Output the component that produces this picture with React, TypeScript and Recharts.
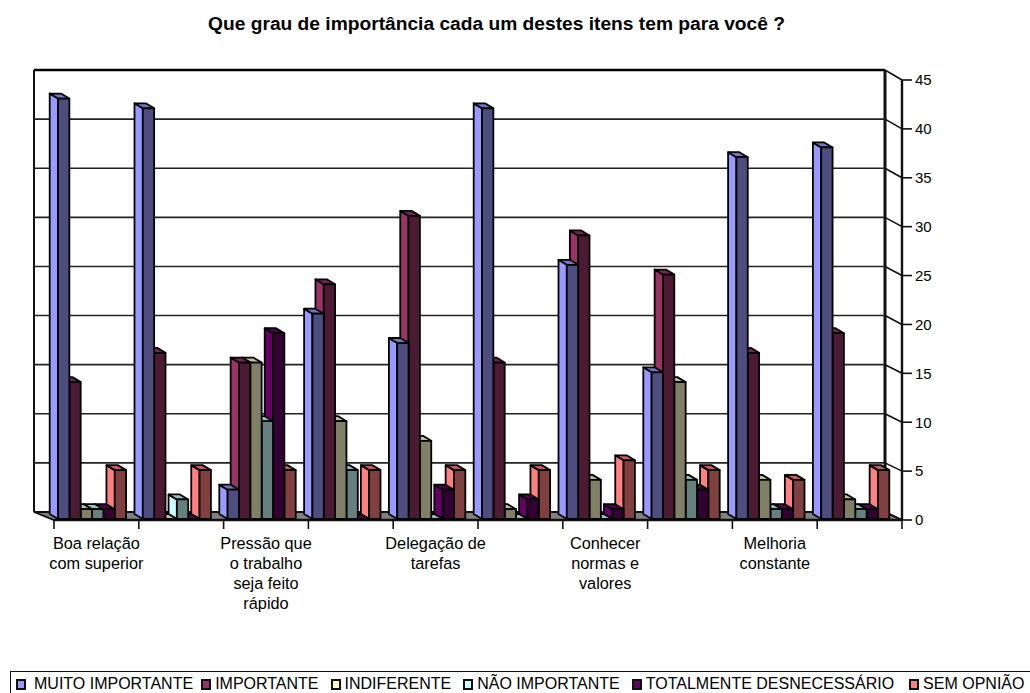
import { BarChart, Bar, XAxis, YAxis, CartesianGrid, Legend } from "recharts";

const FONT = '"Liberation Sans", Arial, sans-serif';

const categoryLabels = [
  ["Boa relação", "com superior"],
  [],
  ["Pressão que", "o trabalho", "seja feito", "rápido"],
  [],
  ["Delegação de", "tarefas"],
  [],
  ["Conhecer", "normas e", "valores"],
  [],
  ["Melhoria", "constante"],
  [],
];

const muitoImportante = [43, 42, 3, 21, 18, 42, 26, 15, 37, 38];
const importante = [14, 17, 16, 24, 31, 16, 29, 25, 17, 19];
const indiferente = [1, 0, 16, 10, 8, 1, 4, 14, 4, 2];
const naoImportante = [1, 2, 10, 5, 0, 0, 0, 4, 1, 1];
const totalmenteDesnecessario = [1, 0, 19, 0, 3, 2, 1, 3, 1, 1];
const semOpiniao = [5, 5, 5, 5, 5, 5, 6, 5, 4, 5];

const seriesNames = [
  "MUITO IMPORTANTE",
  "IMPORTANTE",
  "INDIFERENTE",
  "NÃO IMPORTANTE",
  "TOTALMENTE DESNECESSÁRIO",
  "SEM OPNIÃO",
];
const seriesValues = [
  muitoImportante,
  importante,
  indiferente,
  naoImportante,
  totalmenteDesnecessario,
  semOpiniao,
];
const sideColors = ["#9999FF", "#993366", "#FFFFCC", "#CCFFFF", "#660066", "#FF8080"];
const frontColors = ["#4D4D80", "#4D1A33", "#808066", "#668080", "#330033", "#804040"];
const topColors = ["#7373BF", "#732650", "#BFBF99", "#99BFBF", "#4D004D", "#BF6060"];

const yTicks = [0, 5, 10, 15, 20, 25, 30, 35, 40, 45];

const data = categoryLabels.map((_, i) => {
  const row: Record<string, number> = {};
  seriesNames.forEach((name, s) => {
    row[name] = seriesValues[s][i];
  });
  return row;
});

const WIDTH = 1030;
const HEIGHT = 693;
const PLOT_LEFT = 54;
const PLOT_RIGHT = 902;
const PLOT_TOP = 80;
const PLOT_BOTTOM = 520;
const WALL_DX = 17;
const BAR_SIZE = 11.35;
const DEPTH_X = 8.3;
const DEPTH_Y = 5;
const LINE = "#111";
const LEGEND_GAPS = [8, 12, 12, 12, 15, 0];

const backY = (y: number) => y - 8 - (2 * (PLOT_BOTTOM - y)) / (PLOT_BOTTOM - PLOT_TOP);

// bars are listed right to left so the nearer one paints over its neighbour's side,
// so each one is moved back to its own slot here
function makeBar(s: number) {
  return function Bar3D(props: any) {
    const { x, y, width, height } = props;
    const left = x + (2 * s - 5) * width - 4;
    const right = left + width;
    const bottom = y + height - 1;
    const top = y - 1;
    const stroke = { stroke: "#000", strokeWidth: 1.8, strokeLinejoin: "round" as const };
    return (
      <g>
        <polygon
          points={`${left},${top} ${left - DEPTH_X},${top - DEPTH_Y} ${left - DEPTH_X},${bottom - DEPTH_Y} ${left},${bottom}`}
          fill={sideColors[s]}
          {...stroke}
        />
        <polygon
          points={`${left},${top} ${left - DEPTH_X},${top - DEPTH_Y} ${right - DEPTH_X},${top - DEPTH_Y} ${right},${top}`}
          fill={topColors[s]}
          {...stroke}
        />
        <rect x={left} y={top} width={width} height={bottom - top} fill={frontColors[s]} {...stroke} />
      </g>
    );
  };
}

// grid line on the back wall plus its slanted piece on the side wall
function WallLine(props: any) {
  const { y1, index } = props;
  const by = backY(y1);
  const backRight = PLOT_RIGHT - WALL_DX;
  const backLeft = PLOT_LEFT - 20;
  const isBottom = Math.abs(y1 - PLOT_BOTTOM) < 1;
  const isTop = Math.abs(y1 - PLOT_TOP) < 1;
  return (
    <g key={`wall-${index}`}>
      {isBottom && (
        <>
          <line x1={backLeft} y1={backY(PLOT_TOP)} x2={backLeft} y2={by} stroke={LINE} strokeWidth={2} />
          <line x1={backRight} y1={backY(PLOT_TOP)} x2={backRight} y2={by} stroke={LINE} strokeWidth={3} />
          <polygon
            points={`${backLeft},${by} ${backRight},${by} ${PLOT_RIGHT},${y1} ${PLOT_LEFT},${y1}`}
            fill="#808080"
            stroke={LINE}
            strokeWidth={1.8}
          />
          <line x1={PLOT_LEFT} y1={y1} x2={PLOT_RIGHT} y2={y1} stroke={LINE} strokeWidth={2.4} />
        </>
      )}
      {!isBottom && (
        <line
          x1={backLeft}
          y1={by}
          x2={backRight}
          y2={by}
          stroke={isTop ? "#000" : "#222"}
          strokeWidth={isTop ? 2.4 : 1.6}
        />
      )}
      <line x1={backRight} y1={by} x2={PLOT_RIGHT} y2={y1} stroke={LINE} strokeWidth={1.6} />
    </g>
  );
}

function CategoryTick(props: any) {
  const { x, y, index, visibleTicksCount } = props;
  const band = (PLOT_RIGHT - PLOT_LEFT) / categoryLabels.length;
  const edge = x - band / 2;
  const lines = categoryLabels[index] ?? [];
  const isLast = index === (visibleTicksCount ?? categoryLabels.length) - 1;
  return (
    <g>
      <line x1={edge} y1={PLOT_BOTTOM} x2={edge} y2={PLOT_BOTTOM + 9} stroke={LINE} strokeWidth={1.6} />
      {isLast && (
        <line x1={edge + band} y1={PLOT_BOTTOM} x2={edge + band} y2={PLOT_BOTTOM + 9} stroke={LINE} strokeWidth={1.6} />
      )}
      <text x={x} y={y} textAnchor="middle" fontFamily={FONT} fontSize={16.3} fill="#000">
        {lines.map((line: string, i: number) => (
          <tspan key={line} x={x} y={PLOT_BOTTOM + 29 + i * 20}>
            {line}
          </tspan>
        ))}
      </text>
    </g>
  );
}

function LegendBox() {
  return (
    <div
      style={{
        boxSizing: "border-box",
        width: 1020,
        height: 22,
        borderTop: "1.6px solid #111",
        borderLeft: "1.6px solid #111",
        display: "flex",
        alignItems: "center",
        paddingLeft: 5,
        paddingTop: 3,
        fontFamily: FONT,
        fontSize: 16,
        color: "#000",
        whiteSpace: "nowrap",
        lineHeight: "18px",
      }}
    >
      {seriesNames.map((name, s) => (
        <span
          key={name}
          style={{ display: "flex", alignItems: "center", gap: s === 0 ? 8 : 4, marginRight: LEGEND_GAPS[s] }}
        >
          <span
            style={{
              display: "inline-block",
              boxSizing: "border-box",
              width: 10,
              height: 11,
              background: sideColors[s],
              border: "2px solid #111",
            }}
          />
          {name}
        </span>
      ))}
    </div>
  );
}

export default function App() {
  return (
    <div style={{ position: "absolute", left: 0, top: 0, width: WIDTH, height: HEIGHT, background: "#fff" }}>
      <div
        style={{
          position: "absolute",
          top: 13,
          left: 0,
          width: 993,
          textAlign: "center",
          fontFamily: FONT,
          fontWeight: 700,
          fontSize: 19.2,
        }}
      >
        Que grau de importância cada um destes itens tem para você ?
      </div>
      <BarChart
        width={WIDTH}
        height={HEIGHT}
        data={data}
        barSize={BAR_SIZE}
        barGap={0}
        margin={{ top: PLOT_TOP, right: WIDTH - PLOT_RIGHT - 60, left: PLOT_LEFT, bottom: 0 }}
      >
        <CartesianGrid horizontal={WallLine} vertical={false} />
        <XAxis
          height={HEIGHT - PLOT_BOTTOM - 22}
          tick={<CategoryTick />}
          tickLine={false}
          axisLine={false}
          interval={0}
        />
        <YAxis
          orientation="right"
          width={60}
          domain={[0, 45]}
          ticks={yTicks}
          interval={0}
          tickSize={10}
          tickMargin={3}
          axisLine={{ stroke: LINE, strokeWidth: 2.4 }}
          tickLine={{ stroke: LINE, strokeWidth: 1.6 }}
          tick={{ fill: "#000", fontSize: 15, fontFamily: FONT }}
        />
        <Legend
          verticalAlign="bottom"
          height={22}
          content={<LegendBox />}
          wrapperStyle={{ left: 10, bottom: 0, width: 1020 }}
        />
        {[5, 4, 3, 2, 1, 0].map((s) => (
          <Bar
            key={seriesNames[s]}
            dataKey={seriesNames[s]}
            fill={sideColors[s]}
            shape={makeBar(s)}
            isAnimationActive={false}
          />
        ))}
      </BarChart>
    </div>
  );
}
